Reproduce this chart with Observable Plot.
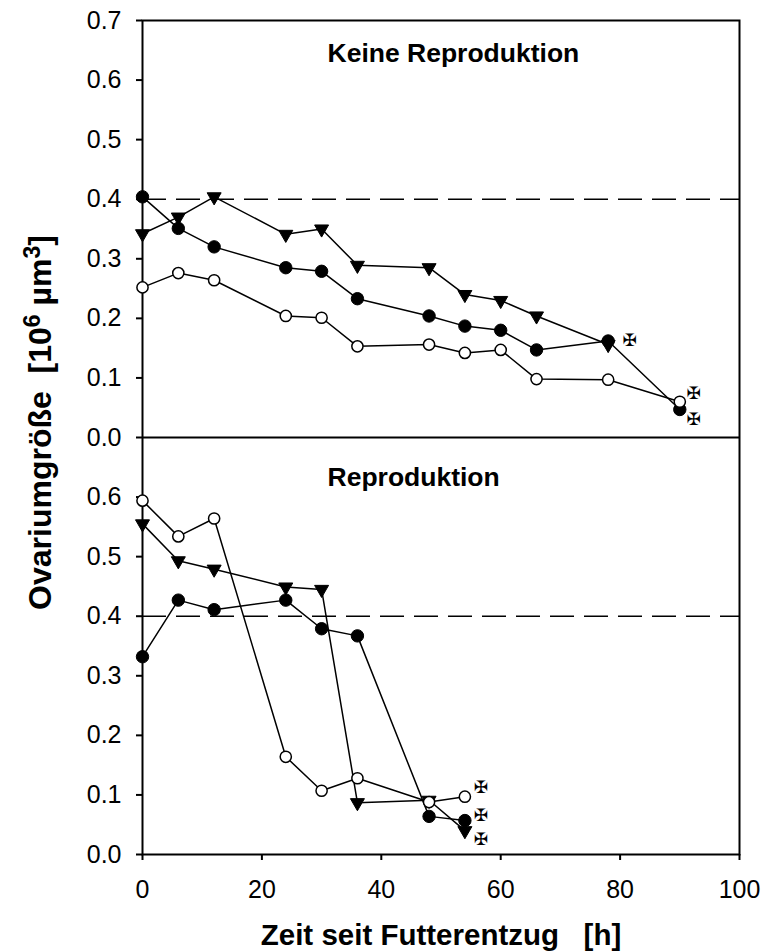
<!DOCTYPE html>
<html>
<head>
<meta charset="utf-8">
<script src="https://cdn.jsdelivr.net/npm/d3@7"></script>
<script src="https://cdn.jsdelivr.net/npm/@observablehq/plot@0.6"></script>
<style>
  html, body { margin: 0; padding: 0; background: #fff; }
  #chart svg { display: block; }
</style>
</head>
<body>
<div id="chart"></div>
<script>
// ---- data ----
const panels = ["Keine Reproduktion", "Reproduktion"];

// upper panel: Keine Reproduktion
const timesTop = [0, 6, 12, 24, 30, 36, 48, 54, 60, 66, 78, 90];
const topOpen = [0.252, 0.276, 0.264, 0.204, 0.201, 0.153, 0.156, 0.142, 0.147, 0.098, 0.097, 0.060];
const topFilled = [0.404, 0.351, 0.320, 0.285, 0.279, 0.233, 0.204, 0.187, 0.180, 0.147, 0.162, 0.047];
const timesTopTriangle = [0, 6, 12, 24, 30, 36, 48, 54, 60, 66, 78];
const topTriangle = [0.342, 0.370, 0.404, 0.341, 0.350, 0.289, 0.285, 0.240, 0.230, 0.204, 0.156];

// lower panel: Reproduktion
const timesBottom = [0, 6, 12, 24, 30, 36, 48, 54];
const bottomOpen = [0.594, 0.534, 0.564, 0.164, 0.107, 0.128, 0.088, 0.097];
const bottomFilled = [0.332, 0.427, 0.411, 0.427, 0.379, 0.367, 0.064, 0.057];
const bottomTriangle = [0.555, 0.493, 0.479, 0.449, 0.445, 0.087, 0.091, 0.040];

// death markers (✠)
const topCrossX = [81.6, 92.3, 92.3];
const topCrossY = [0.162, 0.074, 0.030];
const bottomCrossX = [56.7, 56.7, 56.7];
const bottomCrossY = [0.112, 0.065, 0.025];

const referenceLevel = [0.4];
const xTicks = [0, 20, 40, 60, 80, 100];
const topYTicks = [0, 0.1, 0.2, 0.3, 0.4, 0.5, 0.6, 0.7];
const bottomYTicks = [0, 0.1, 0.2, 0.3, 0.4, 0.5, 0.6];

const xTitle = "Zeit seit Futterentzug\u00a0\u00a0\u00a0[h]";
const yTitle = "Ovariumgröße  [10^6 µm^3]";

// ---- build tables ----
// the two panels share one y scale: the upper panel sits on top of the lower one
const panelSpan = 0.7;
const panelBase = {[panels[0]]: panelSpan, [panels[1]]: 0};
const rows = [];
function addSeries(panel, series, xs, vs) {
  xs.forEach((x, i) => rows.push({panel, series, x, v: vs[i]}));
}
addSeries(panels[0], "open", timesTop, topOpen);
addSeries(panels[0], "filled", timesTop, topFilled);
addSeries(panels[0], "triangle", timesTopTriangle, topTriangle);
addSeries(panels[1], "open", timesBottom, bottomOpen);
addSeries(panels[1], "filled", timesBottom, bottomFilled);
addSeries(panels[1], "triangle", timesBottom, bottomTriangle);

const crosses = [
  ...topCrossX.map((x, i) => ({panel: panels[0], x, v: topCrossY[i]})),
  ...bottomCrossX.map((x, i) => ({panel: panels[1], x, v: bottomCrossY[i]}))
];
const refs = panels.flatMap(p => referenceLevel.map(v => ({panel: p, v})));
const yOf = d => d.v + panelBase[d.panel];
const yTickPositions = [
  ...bottomYTicks.map(v => v + panelBase[panels[1]]),
  ...topYTicks.map(v => v + panelBase[panels[0]])
];
const fmtY = d => (d >= panelSpan - 1e-6 ? d - panelSpan : d).toFixed(1);

const font = "'Liberation Sans', Arial, Helvetica, sans-serif";

const chart = Plot.plot({
  width: 763,
  height: 951,
  marginLeft: 142,
  marginRight: 24,
  marginTop: 20,
  marginBottom: 97,
  style: {fontFamily: font, background: "#fff", color: "#000"},
  x: {domain: [0, 100]},
  y: {domain: [0, 2 * panelSpan]},
  marks: [
    // reference dashed lines
    Plot.ruleY(refs, {y: yOf, stroke: "black", strokeWidth: 1.6, strokeDasharray: "24,10"}),
    // panel separator
    Plot.ruleY([panelBase[panels[0]]], {stroke: "black", strokeWidth: 2}),
    Plot.frame({stroke: "black", strokeWidth: 2}),
    Plot.axisY(yTickPositions, {
      tickSize: 6, tickPadding: 15, tickFormat: fmtY, fontSize: 25,
      strokeWidth: 2, label: null
    }),
    Plot.axisX(xTicks, {
      tickSize: 6, tickPadding: 20, fontSize: 25, strokeWidth: 2, label: null
    }),
    // series lines
    Plot.line(rows, {x: "x", y: yOf, z: d => d.panel + d.series, stroke: "black", strokeWidth: 1.5}),
    // markers
    Plot.dot(rows.filter(d => d.series === "triangle"), {
      x: "x", y: yOf, symbol: "triangle", rotate: 180, r: 5.2, fill: "black", stroke: "black", strokeWidth: 1
    }),
    Plot.dot(rows.filter(d => d.series === "filled"), {
      x: "x", y: yOf, r: 6.2, fill: "black", stroke: "black", strokeWidth: 1
    }),
    Plot.dot(rows.filter(d => d.series === "open"), {
      x: "x", y: yOf, r: 5.6, fill: "white", stroke: "black", strokeWidth: 1.5
    }),
    // crosses
    Plot.text(crosses, {
      x: "x", y: yOf, text: () => "\u2720\uFE0E", fontSize: 17,
      fontFamily: "'DejaVu Sans', sans-serif", fill: "black"
    }),
    // panel labels
    Plot.text([panels[0]], {
      frameAnchor: "top-left", dx: 185, dy: 41, textAnchor: "start", lineAnchor: "bottom",
      fontSize: 26.5, fontWeight: "bold", fill: "black"
    }),
    Plot.text([panels[1]], {
      frameAnchor: "top-left", dx: 185, dy: 465, textAnchor: "start", lineAnchor: "bottom",
      fontSize: 26.5, fontWeight: "bold", fill: "black"
    }),
    // axis titles
    Plot.text([xTitle], {
      frameAnchor: "bottom", dy: 90, lineAnchor: "bottom", textAnchor: "middle",
      fontSize: 29.5, fontWeight: "bold", fill: "black"
    }),
    Plot.text([yTitle], {
      frameAnchor: "left", dx: -92, dy: -15, rotate: -90, lineAnchor: "bottom", textAnchor: "middle",
      fontSize: 32, fontWeight: "bold", fill: "black"
    })
  ]
});

// render superscripts in the y title as real text tspans
d3.select(chart).selectAll("text").each(function () {
  if (this.textContent === yTitle) {
    const t = d3.select(this);
    t.text(null);
    const parts = yTitle.split(/\^(\d)/);
    parts.forEach((p, i) => {
      if (i % 2 === 0) {
        const s = t.append("tspan").text(p.replace(/ /g, "\u00a0"));
        if (i > 0) s.attr("dy", "11px");
      } else {
        t.append("tspan").attr("dy", "-11px").attr("font-size", "23px").text(p);
      }
    });
  }
});

document.getElementById("chart").appendChild(chart);
</script>
</body>
</html>
